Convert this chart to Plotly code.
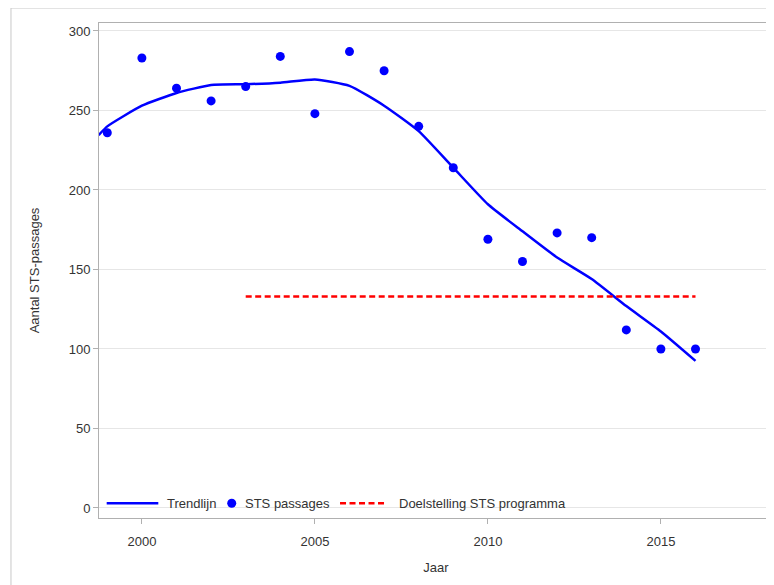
import plotly.graph_objects as go

# STS passages per year (dots)
years = [1999, 2000, 2001, 2002, 2003, 2004, 2005, 2006, 2007, 2008,
         2009, 2010, 2011, 2012, 2013, 2014, 2015, 2016]
passages = [236, 283, 264, 256, 265, 284, 248, 287, 275, 240,
            214, 169, 155, 173, 170, 112, 100, 100]

# smoothed trend line
trend_years = [1998.75, 1999, 2000, 2001, 2002, 2003, 2004, 2005, 2006, 2007,
               2008, 2009, 2010, 2011, 2012, 2013, 2014, 2015, 2016]
trend_values = [234.5, 240, 253, 261, 266, 266.5, 267.5, 269.5, 265.5, 253,
                237, 214, 191, 174, 157.5, 144, 127, 111, 92.5]

# programme target
target_years = [2003, 2016]
target_values = [133, 133]

font = "Liberation Sans, Arial, sans-serif"
txt = "#333333"
blue = "#0000ff"
red = "#ff0000"
dash = "6px,3.5px"

fig = go.Figure()

fig.add_scatter(
    x=trend_years, y=trend_values, mode="lines", name="Trendlijn",
    line=dict(color=blue, width=2.5, shape="spline", smoothing=0.5),
    showlegend=False,
)
fig.add_scatter(
    x=years, y=passages, mode="markers", name="STS passages",
    marker=dict(color=blue, size=9), showlegend=False,
)
fig.add_scatter(
    x=target_years, y=target_values, mode="lines", name="Doelstelling STS programma",
    line=dict(color=red, width=2.5, dash=dash), showlegend=False,
)

axis_common = dict(
    showline=True, linecolor="#b0b0b0", linewidth=1, mirror=True,
    ticks="outside", ticklen=5, tickcolor="#b0b0b0",
    tickfont=dict(family=font, size=13, color=txt),
    zeroline=False,
)

fig.update_xaxes(
    range=[1998.76, 2018.24], tickvals=[2000, 2005, 2010, 2015],
    showgrid=False, ticklabelstandoff=6,
    title=dict(text="Jaar", font=dict(family=font, size=13, color=txt), standoff=15),
    **axis_common,
)
fig.update_yaxes(
    range=[-6.3, 305], tickvals=[0, 50, 100, 150, 200, 250, 300],
    showgrid=True, gridcolor="#e6e6e6", gridwidth=1,
    title=dict(text="Aantal STS-passages", font=dict(family=font, size=13, color=txt), standoff=26),
    **axis_common,
)

# outer frame
fig.add_shape(
    type="rect", xref="paper", yref="paper",
    x0=-0.1306, x1=1.2, y0=-0.3, y1=1.0303,
    line=dict(color="#c8c8c8", width=1), fillcolor="rgba(0,0,0,0)", layer="below",
)

# legend drawn inside the plot, bottom left
ly = 0.0297
fig.add_shape(type="line", xref="paper", yref="paper", x0=0.0114, x1=0.0880, y0=ly, y1=ly,
              line=dict(color=blue, width=2.5))
fig.add_shape(type="circle", xref="paper", yref="paper", xsizemode="pixel", ysizemode="pixel",
              xanchor=0.1969, yanchor=ly, x0=-4.5, x1=4.5, y0=-4.5, y1=4.5,
              line=dict(color=blue, width=0), fillcolor=blue)
fig.add_shape(type="line", xref="paper", yref="paper", x0=0.3576, x1=0.4269, y0=ly, y1=ly,
              line=dict(color=red, width=2.5, dash=dash))
for xpos, label in [(0.0979, "Trendlijn"), (0.2132, "STS passages"),
                    (0.4417, "Doelstelling STS programma")]:
    fig.add_annotation(x=xpos, y=ly, xref="paper", yref="paper", text=label,
                       showarrow=False, xanchor="left", yanchor="middle",
                       font=dict(family=font, size=13, color=txt))

# page body adds 8px, so the figure is shifted by that much
fig.update_layout(
    width=766, height=577,
    margin=dict(l=91, r=1, t=15, b=67),
    plot_bgcolor="white", paper_bgcolor="white",
    font=dict(family=font, size=13, color=txt),
    showlegend=False,
)

fig.write_html("out.html")
